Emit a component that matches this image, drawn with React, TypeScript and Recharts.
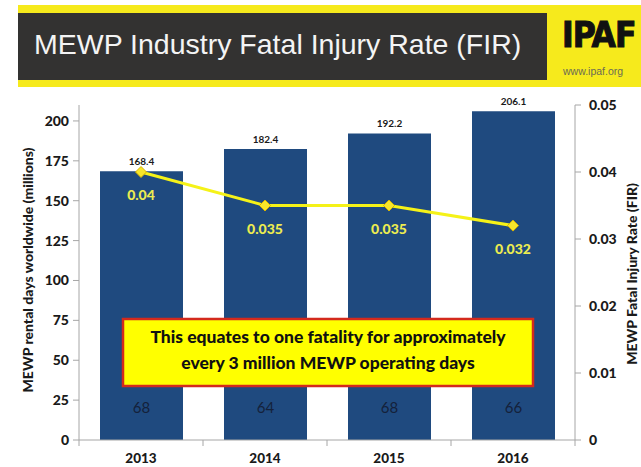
import React from 'react';
import { ComposedChart, Bar, Line, XAxis, YAxis, LabelList } from 'recharts';

const years = ['2013', '2014', '2015', '2016'];
const rentalDays = [168.4, 182.4, 192.2, 206.1];
const fatalities = [68, 64, 68, 66];
const firRates = [0.04, 0.035, 0.035, 0.032];
const leftTicks = [0, 25, 50, 75, 100, 125, 150, 175, 200];
const rightTicks = [0, 0.01, 0.02, 0.03, 0.04, 0.05];

const data = years.map((y, i) => ({ year: y, rental: rentalDays[i], fatal: fatalities[i], fir: firRates[i] }));

const W = 641;
const H = 467;
const PLOT_LEFT = 79;
const PLOT_RIGHT = 575;
const PLOT_TOP = 105;
const PLOT_BOTTOM = 440;
const BAND = (PLOT_RIGHT - PLOT_LEFT) / years.length;

const AXIS_FONT = 'Lato, "Open Sans", sans-serif';
const AXIS_GRAY = '#a6a6a6';

const XTick = (props: any) => {
  const { x, y, payload, index } = props;
  const left = x - BAND / 2;
  return (
    <g>
      <line x1={left} y1={PLOT_BOTTOM} x2={left} y2={PLOT_BOTTOM + 6} stroke={AXIS_GRAY} />
      {index === years.length - 1 && (
        <line x1={x + BAND / 2} y1={PLOT_BOTTOM} x2={x + BAND / 2} y2={PLOT_BOTTOM + 6} stroke={AXIS_GRAY} />
      )}
      <text x={x} y={y + 15} textAnchor="middle" fontFamily={AXIS_FONT} fontWeight={900} fontSize={13.5} fill="#1a1a1a">
        {payload.value}
      </text>
    </g>
  );
};

const Diamond = (props: any) => {
  const { cx, cy } = props;
  if (cx == null || cy == null) return null;
  const r = 5.5;
  return (
    <polygon
      points={`${cx},${cy - r} ${cx + r},${cy} ${cx},${cy + r} ${cx - r},${cy}`}
      fill="#f7e62a"
      stroke="#d9b400"
      strokeWidth={1}
    />
  );
};

const FatalLabel = (props: any) => {
  const { x, y, width, height, value } = props;
  return (
    <text x={x + width / 2} y={y + height - 27} textAnchor="middle" fontFamily={AXIS_FONT} fontSize={15} fill="#14213a">
      {value}
    </text>
  );
};

const FirLabel = (props: any) => {
  const { x, y, value } = props;
  return (
    <text x={x} y={y + 28} textAnchor="middle" fontFamily={AXIS_FONT} fontWeight={900} fontSize={14} fill="#ecec50">
      {value}
    </text>
  );
};

export default function App() {
  return (
    <div style={{ position: 'absolute', left: 0, top: 0, width: W, height: H, background: '#fff', overflow: 'hidden' }}>
      {/* Header */}
      <div style={{ position: 'absolute', left: 18, top: 5, width: W - 18, height: 82, background: '#f6ea1c' }} />
      <div style={{ position: 'absolute', left: 18, top: 13, width: 529, height: 67, background: '#333231' }} />
      <div
        style={{
          position: 'absolute', left: 34, top: 27, color: '#f4f4f4',
          fontFamily: '"Liberation Sans", Arial, sans-serif', fontSize: 28.5, lineHeight: '34px', whiteSpace: 'nowrap',
        }}
      >
        MEWP Industry Fatal Injury Rate (FIR)
      </div>
      <div
        style={{
          position: 'absolute', left: 562, top: 15, fontFamily: '"DejaVu Sans", sans-serif', fontWeight: 900,
          fontSize: 35, fontStretch: 'condensed', lineHeight: '40px', color: '#111', letterSpacing: -1, whiteSpace: 'nowrap',
          WebkitTextStroke: '1px #111',
        }}
      >
        IPAF
      </div>
      <div
        style={{
          position: 'absolute', left: 563, top: 65, fontFamily: '"Liberation Sans", Arial, sans-serif',
          fontSize: 10.5, color: '#6b6b55', whiteSpace: 'nowrap',
        }}
      >
        www.ipaf.org
      </div>

      <ComposedChart
        width={W}
        height={H}
        data={data}
        margin={{ top: PLOT_TOP, right: 0, bottom: 0, left: 0 }}
        style={{ position: 'absolute', left: 0, top: 0 }}
      >
        <XAxis
          dataKey="year"
          height={H - PLOT_BOTTOM}
          axisLine={{ stroke: AXIS_GRAY }}
          tickLine={false}
          tick={<XTick />}
          interval={0}
        />
        <YAxis
          yAxisId="left"
          width={PLOT_LEFT}
          domain={[0, 210]}
          ticks={leftTicks}
          interval={0}
          axisLine={{ stroke: AXIS_GRAY }}
          tickLine={{ stroke: AXIS_GRAY }}
          tickSize={6}
          tickMargin={4}
          tick={{ fontFamily: AXIS_FONT, fontWeight: 900, fontSize: 14, fill: '#1a1a1a' }}
        />
        <YAxis
          yAxisId="right"
          orientation="right"
          width={W - PLOT_RIGHT}
          domain={[0, 0.05]}
          ticks={rightTicks}
          interval={0}
          axisLine={{ stroke: AXIS_GRAY }}
          tickLine={{ stroke: AXIS_GRAY }}
          tickSize={6}
          tickMargin={8}
          tickFormatter={(v: number) => (v === 0 ? '0' : String(v))}
          tick={{ fontFamily: AXIS_FONT, fontWeight: 900, fontSize: 14, fill: '#1a1a1a' }}
        />
        <Bar yAxisId="left" dataKey="rental" fill="#1f4a7f" barSize={83} isAnimationActive={false}>
          <LabelList
            dataKey="rental"
            position="top"
            offset={6}
            style={{ fontFamily: AXIS_FONT, fontWeight: 700, fontSize: 10, fill: '#1a1a1a' }}
          />
          <LabelList dataKey="fatal" content={<FatalLabel />} />
        </Bar>
        <Line
          yAxisId="right"
          dataKey="fir"
          stroke="#f5f218"
          strokeWidth={3}
          dot={<Diamond />}
          activeDot={false}
          isAnimationActive={false}
        >
          <LabelList dataKey="fir" content={<FirLabel />} />
        </Line>
      </ComposedChart>

      <svg width={W} height={H} style={{ position: 'absolute', left: 0, top: 0, pointerEvents: 'none' }}>
        <text
          transform="translate(33, 270) rotate(-90)"
          textAnchor="middle"
          fontFamily={AXIS_FONT}
          fontWeight={900}
          fontSize={14}
          fill="#1a1a1a"
        >
          MEWP rental days worldwide (millions)
        </text>
        <text
          transform="translate(637, 274) rotate(-90)"
          textAnchor="middle"
          fontFamily={AXIS_FONT}
          fontWeight={900}
          fontSize={14}
          fill="#1a1a1a"
        >
          MEWP Fatal Injury Rate (FIR)
        </text>
        <rect x={123} y={319} width={410} height={67} fill="#ffff00" stroke="#d42a1c" strokeWidth={2.5} />
        <text x={328} y={343} textAnchor="middle" fontFamily={AXIS_FONT} fontWeight={900} fontSize={17.5} fill="#111">
          This equates to one fatality for approximately
        </text>
        <text x={328} y={369} textAnchor="middle" fontFamily={AXIS_FONT} fontWeight={900} fontSize={17.5} fill="#111">
          every 3 million MEWP operating days
        </text>
      </svg>
    </div>
  );
}
